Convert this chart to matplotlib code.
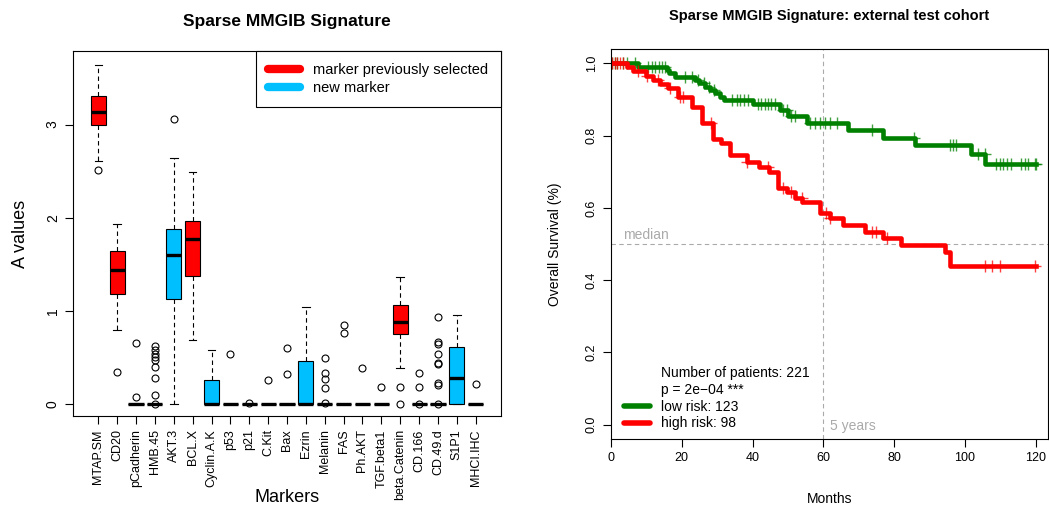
import numpy as np
import matplotlib
matplotlib.use("Agg")
import matplotlib.pyplot as plt
from matplotlib.lines import Line2D

plt.rcParams['font.family'] = ['Liberation Sans', 'DejaVu Sans']

# ---------------- Left panel data (boxplot summary stats) ----------------
markers = ["MTAP.SM", "CD20", "pCadherin", "HMB.45", "AKT.3", "BCL.X", "Cyclin.A.K",
           "p53", "p21", "C.Kit", "Bax", "Ezrin", "Melanin", "FAS", "Ph.AKT",
           "TGF.beta1", "beta.Catenin", "CD.166", "CD.49.d", "S1P1", "MHCI.IHC"]
group = ["prev", "prev", "none", "none", "new", "prev", "new",
         "none", "none", "none", "none", "new", "none", "none", "none",
         "none", "prev", "none", "none", "new", "none"]
medians = [3.13, 1.44, 0, 0, 1.60, 1.77, 0, 0, 0, 0, 0, 0, 0, 0, 0, 0, 0.875, 0, 0, 0.276, 0]
q1s     = [3.00, 1.18, 0, 0, 1.13, 1.37, 0, 0, 0, 0, 0, 0, 0, 0, 0, 0, 0.753, 0, 0, 0.0, 0]
q3s     = [3.305, 1.642, 0, 0, 1.878, 1.968, 0.255, 0, 0, 0, 0, 0.462, 0, 0, 0, 0, 1.061, 0, 0, 0.616, 0]
wlo     = [2.605, 0.796, 0, 0, 0.0, 0.685, 0, 0, 0, 0, 0, 0, 0, 0, 0, 0, 0.383, 0, 0, 0.0, 0]
whi     = [3.645, 1.932, 0, 0, 2.64, 2.495, 0.58, 0, 0, 0, 0, 1.036, 0, 0, 0, 0, 1.358, 0, 0, 0.95, 0]
fliers  = [[2.516], [0.344], [0.659, 0.072], [0.62, 0.58, 0.54, 0.50, 0.47, 0.40, 0.28, 0.10, 0.0],
           [3.06], [], [], [0.541], [0.01], [0.258], [0.598, 0.326], [],
           [0.498, 0.33, 0.269, 0.176, 0.01], [0.846, 0.763], [0.383], [0.179],
           [0.186, 0.0], [0.333, 0.183, 0.0],
           [0.932, 0.67, 0.641, 0.534, 0.437, 0.43, 0.222, 0.2, 0.0], [], [0.211]]
legend_labels = ["marker previously selected", "new marker"]
group_colors = {"prev": "#FF0000", "new": "#00BFFF", "none": "#FFFFFF"}

# ---------------- Right panel data (Kaplan-Meier steps) ----------------
low_t = [0, 7.5, 15.7, 16.5, 18.1, 23.7, 25.0, 26.6, 28.0, 29.4, 30.8, 32.0, 40.2,
         47.7, 50.1, 55.3, 66.9, 76.9, 85.9, 101.7, 105.8]
low_s = [1.0, 0.991, 0.982, 0.973, 0.963, 0.954, 0.945, 0.936, 0.927, 0.917, 0.908,
         0.899, 0.887, 0.871, 0.855, 0.836, 0.816, 0.794, 0.774, 0.748, 0.722]
low_cens = [0.3, 1.0, 1.8, 3.4, 4.4, 6.8, 10.5, 11.5, 12.5, 13.5, 14.5, 15.2, 20.9, 23.0,
            24.7, 26.3, 27.7, 29.1, 34.1, 35.5, 36.5, 37.7, 38.8, 41.6, 42.5, 43.4,
            44.4, 45.3, 46.3, 48.7, 49.6, 50.9, 52.0, 56.2, 57.6, 59.0, 60.5, 61.9, 64.0,
            73.9, 85.7, 95.8, 96.7, 97.6, 103.8, 105.6, 108.8, 109.9, 110.8, 111.8, 113.0,
            116.0, 116.9, 117.9, 119.8, 120.2]
high_t = [0, 4.4, 6.2, 10.0, 11.9, 13.8, 16.1, 19.0, 22.8, 25.6, 28.9, 31.0, 33.6,
          38.3, 41.7, 44.6, 47.3, 49.8, 52.0, 54.0, 59.0, 61.9, 65.6, 71.8, 76.9, 81.9,
          94.5, 95.8]
high_s = [1.0, 0.99, 0.98, 0.965, 0.954, 0.943, 0.931, 0.906, 0.88, 0.834, 0.79, 0.779,
          0.746, 0.727, 0.714, 0.700, 0.654, 0.645, 0.627, 0.615, 0.585, 0.573, 0.553,
          0.534, 0.517, 0.497, 0.479, 0.439]
high_cens = [0.3, 1.0, 1.8, 2.6, 3.3, 7.7, 10.1, 13.4, 16.7, 19.5, 20.4, 28.4, 38.3,
             44.4, 48.7, 51.0, 53.9, 60.9, 61.9, 73.9, 74.9, 77.9, 105.8, 107.7, 109.9, 119.8]
t_end = 120.2
n_total, n_low, n_high = 221, 123, 98
p_text = "p = 2e\u221204 ***"

# ---------------- Figure ----------------
fig = plt.figure(figsize=(10.49, 5.12), dpi=100)

# Left panel
ax1 = fig.add_axes([73/1049, 1-416/512, (501-73)/1049, (416-51)/512])
stats = []
for i, m in enumerate(markers):
    stats.append(dict(label=m, med=medians[i], q1=q1s[i], q3=q3s[i],
                      whislo=wlo[i], whishi=whi[i], fliers=fliers[i]))
pos = np.arange(1, len(markers) + 1)
bp = ax1.bxp(stats, positions=pos, widths=0.8, patch_artist=True,
             boxprops=dict(edgecolor="black", linewidth=0.8),
             medianprops=dict(color="black", linewidth=2.4, solid_capstyle="butt"),
             whiskerprops=dict(color="black", linewidth=0.8, linestyle=(0, (4, 3))),
             capprops=dict(color="black", linewidth=0.8),
             capwidths=0.4,
             flierprops=dict(marker="o", markerfacecolor="none", markeredgecolor="black",
                             markersize=5, markeredgewidth=0.8))
for patch, g in zip(bp["boxes"], group):
    patch.set_facecolor(group_colors[g])
ax1.set_xlim(-0.34, 22.34)
ax1.set_ylim(-0.13, 3.79)
ax1.set_xticks(pos)
ax1.set_xticklabels(markers, rotation=90, fontsize=9)
ax1.set_yticks([0, 1, 2, 3])
ax1.set_yticklabels(["0", "1", "2", "3"], rotation=90, va="center", fontsize=10)
ax1.tick_params(length=6, width=0.8)
for s in ax1.spines.values():
    s.set_linewidth(0.8)
ax1.set_xlabel("Markers", fontsize=13)
ax1.xaxis.set_label_coords(0.5, -0.2)
ax1.set_ylabel("A values", fontsize=13)
ax1.yaxis.set_label_coords(-0.103, 0.5)
ax1.set_title("Sparse MMGIB Signature", fontsize=12.5, fontweight="bold", pad=18)
h1 = [Line2D([], [], color=group_colors["prev"], lw=6, solid_capstyle="round"),
      Line2D([], [], color=group_colors["new"], lw=6, solid_capstyle="round")]
leg1 = ax1.legend(h1, legend_labels, loc="upper right", fontsize=10.5, frameon=True,
                  fancybox=False, edgecolor="black", framealpha=1, borderaxespad=0,
                  handlelength=2.2, handletextpad=0.9, labelspacing=0.25, borderpad=0.85)
leg1.get_frame().set_linewidth(0.8)

# Right panel
ax2 = fig.add_axes([611/1049, 1-439/512, (1048-611)/1049, (439-49)/512])
ax2.axhline(0.5, color="#AAAAAA", lw=0.8, ls=(0, (4, 3)))
ax2.axvline(60, color="#AAAAAA", lw=0.8, ls=(0, (4, 3)))


def surv_at(ts, ss, x):
    idx = np.searchsorted(np.asarray(ts), np.asarray(x), side="right") - 1
    return np.asarray(ss)[idx]


for ts, ss, cens, col in [(low_t, low_s, low_cens, "#008000"),
                          (high_t, high_s, high_cens, "#FF0000")]:
    ax2.step(list(ts) + [t_end], list(ss) + [ss[-1]], where="post", color=col, lw=3.3)
    ax2.plot(cens, surv_at(ts, ss, cens), "+", color=col, ms=8, mew=1.0, alpha=0.75)

ax2.set_xlim(0, 123.5)
ax2.set_ylim(-0.04, 1.04)
ax2.set_xticks([0, 20, 40, 60, 80, 100, 120])
ax2.set_xticklabels(["0", "20", "40", "60", "80", "100", "120"], fontsize=9)
ax2.set_yticks([0, 0.2, 0.4, 0.6, 0.8, 1.0])
ax2.set_yticklabels(["0.0", "0.2", "0.4", "0.6", "0.8", "1.0"], rotation=90, va="center", fontsize=9)
ax2.tick_params(length=6, width=0.8)
for s in ax2.spines.values():
    s.set_linewidth(0.8)
ax2.set_xlabel("Months", fontsize=10)
ax2.xaxis.set_label_coords(0.5, -0.135)
ax2.set_ylabel("Overall Survival (%)", fontsize=10)
ax2.yaxis.set_label_coords(-0.112, 0.5)
ax2.set_title("Sparse MMGIB Signature: external test cohort", fontsize=10.5,
              fontweight="bold", pad=21)
ax2.text(3.5, 0.505, "median", color="#AAAAAA", fontsize=10, va="bottom", ha="left")
ax2.text(62, -0.005, "5 years", color="#AAAAAA", fontsize=10, va="center", ha="left")

h2 = [Line2D([], [], color="none"), Line2D([], [], color="none"),
      Line2D([], [], color="#008000", lw=4, solid_capstyle="round"),
      Line2D([], [], color="#FF0000", lw=4, solid_capstyle="round")]
l2 = ["Number of patients: %d" % n_total, p_text,
      "low risk: %d" % n_low, "high risk: %d" % n_high]
leg2 = ax2.legend(h2, l2, loc="lower left", fontsize=10, frameon=False,
                  handlelength=1.9, handletextpad=0.8, labelspacing=0.2,
                  borderaxespad=0.0, borderpad=0.0,
                  bbox_to_anchor=(0.029, 0.022))

fig.savefig("out.png", dpi=100)
